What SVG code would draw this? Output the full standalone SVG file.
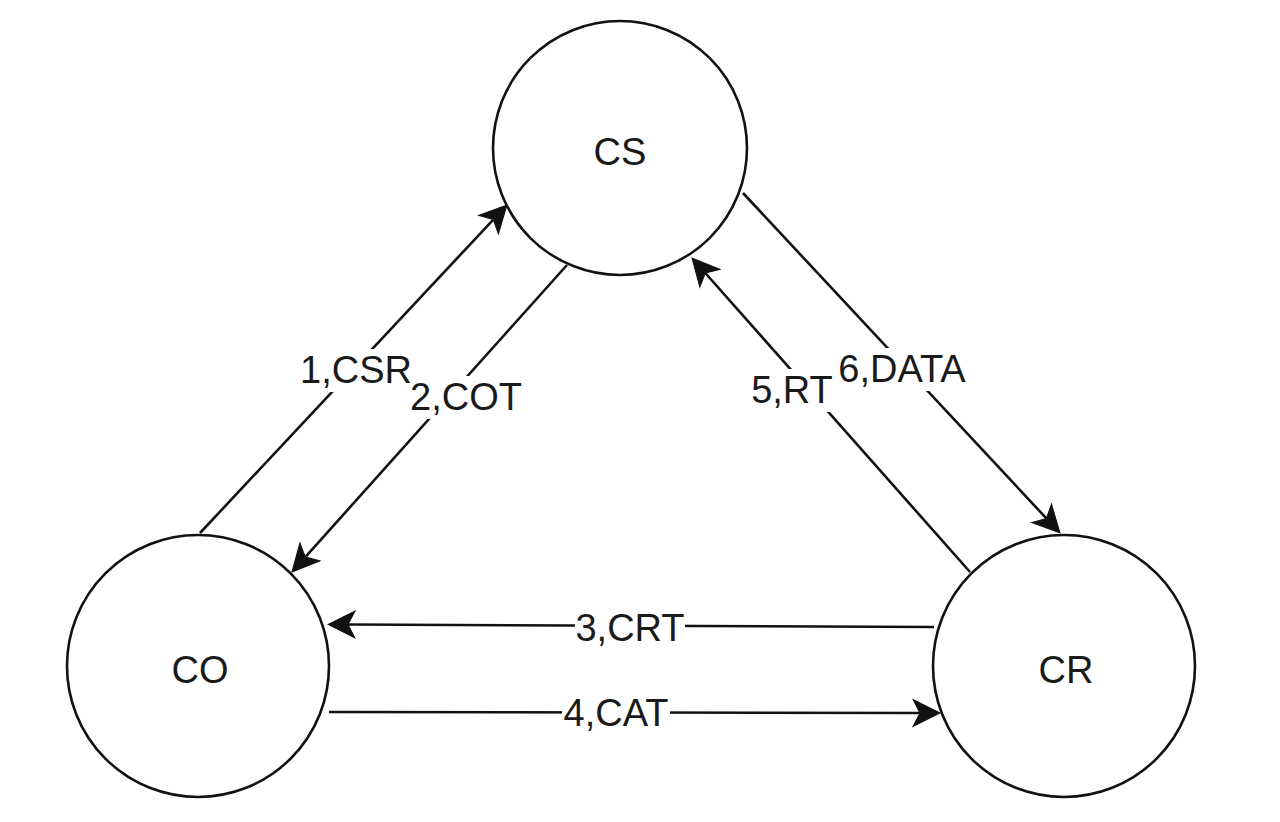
<svg xmlns="http://www.w3.org/2000/svg" width="1280" height="822" viewBox="0 0 1280 822">
  <style>
    .node { fill: #ffffff; stroke: #111111; stroke-width: 2.6; }
    .edge { fill: none; stroke: #111111; stroke-width: 2.6; }
    .lbl { font-family: "Liberation Sans", Arial, Helvetica, sans-serif; font-size: 38px; fill: #1a1a1a; text-anchor: middle; }
    .bg { fill: #ffffff; }
  </style>
  <defs>
    <marker id="arrow" markerUnits="userSpaceOnUse" viewBox="-8 -16 32 32" refX="0" refY="0" markerWidth="32" markerHeight="32" orient="auto">
      <path d="M20,0 L-7,-13.5 L0,0 L-7,13.5 Z" fill="#111111" stroke="#111111" stroke-width="1" stroke-linejoin="miter"/>
    </marker>
  </defs>
  <rect x="0" y="0" width="1280" height="822" fill="#ffffff"/>

  <g id="connectors">
    <path id="e1" class="edge" d="M200,533 L493.3,219.6" marker-end="url(#arrow)"/>
    <path id="e2" class="edge" d="M567,265 L305.3,557.1" marker-end="url(#arrow)"/>
    <path id="e3" class="edge" d="M934,627 L348,624.5" marker-end="url(#arrow)"/>
    <path id="e4" class="edge" d="M329,712 L920,713" marker-end="url(#arrow)"/>
    <path id="e5" class="edge" d="M970,572 L705.3,273" marker-end="url(#arrow)"/>
    <path id="e6" class="edge" d="M743,193 L1046.4,518.4" marker-end="url(#arrow)"/>
  </g>

  <g id="edge-labels">
    <rect class="bg" x="301" y="349" width="111" height="43"/>
    <rect class="bg" x="411" y="376" width="111" height="43"/>
    <rect class="bg" x="575" y="607" width="110" height="43"/>
    <rect class="bg" x="562" y="692" width="108" height="43"/>
    <rect class="bg" x="751" y="369" width="82" height="43"/>
    <rect class="bg" x="836" y="348" width="133" height="43"/>
    <text class="lbl" x="356" y="383">1,CSR</text>
    <text class="lbl" x="466" y="410">2,COT</text>
    <text class="lbl" x="630" y="641">3,CRT</text>
    <text class="lbl" x="616" y="726">4,CAT</text>
    <text class="lbl" x="792" y="403">5,RT</text>
    <text class="lbl" x="902" y="382">6,DATA</text>
  </g>

  <g id="node-CS">
    <circle class="node" cx="620" cy="148" r="127"/>
    <text class="lbl" x="620" y="165">CS</text>
  </g>
  <g id="node-CO">
    <circle class="node" cx="198" cy="666" r="131"/>
    <text class="lbl" x="200" y="683">CO</text>
  </g>
  <g id="node-CR">
    <circle class="node" cx="1064" cy="666" r="131"/>
    <text class="lbl" x="1066" y="683">CR</text>
  </g>
</svg>
